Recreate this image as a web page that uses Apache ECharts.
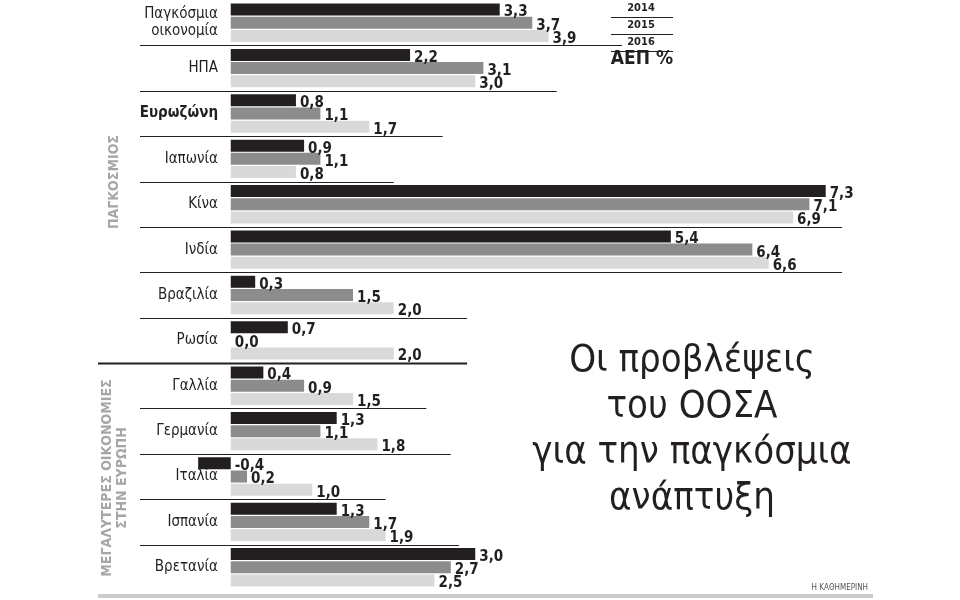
<!DOCTYPE html>
<html>
<head>
<meta charset="utf-8">
<script src="https://cdn.jsdelivr.net/npm/echarts@6/dist/echarts.min.js"></script>
<style>
  html, body { margin: 0; padding: 0; background: #fff; }
  #chart { width: 960px; height: 600px; }
</style>
</head>
<body>
<div id="chart"></div>
<script>
var FONT = "'Liberation Sans Narrow', 'DejaVu Sans Condensed', sans-serif";

// χώρες / περιοχές
var countries = ['Παγκόσμια\nοικονομία', 'ΗΠΑ', 'Ευρωζώνη', 'Ιαπωνία', 'Κίνα', 'Ινδία', 'Βραζιλία',
    'Ρωσία', 'Γαλλία', 'Γερμανία', 'Ιταλία', 'Ισπανία', 'Βρετανία'];
var years = ['2014', '2015', '2016'];
// ΑΕΠ %
var gdp2014 = [3.3, 2.2, 0.8, 0.9, 7.3, 5.4, 0.3, 0.7, 0.4, 1.3, -0.4, 1.3, 3.0];
var gdp2015 = [3.7, 3.1, 1.1, 1.1, 7.1, 6.4, 1.5, 0.0, 0.9, 1.1, 0.2, 1.7, 2.7];
var gdp2016 = [3.9, 3.0, 1.7, 0.8, 6.9, 6.6, 2.0, 2.0, 1.5, 1.8, 1.0, 1.9, 2.5];
var colors = ['#231f20', '#8c8c8c', '#d9d9d9'];

var chart = echarts.init(document.getElementById('chart'));

function makeSeries(name, data, i) {
  return {
    name: name,
    type: 'bar',
    data: data,
    barWidth: 12,
    barGap: '10%',
    itemStyle: { color: colors[i] },
    label: {
      show: true,
      position: 'right',
      distance: 4,
      offset: [0, 3],
      fontFamily: FONT,
      fontWeight: 'bold',
      fontSize: 15,
      color: '#231f20',
      formatter: function (p) { return p.value.toFixed(1).replace('.', ','); }
    }
  };
}

chart.setOption({
  animation: false,
  textStyle: { fontFamily: FONT },
  grid: { left: 190, width: 652, top: -3, height: 593 },
  xAxis: { type: 'value', min: -0.5, max: 7.5, show: false },
  yAxis: {
    type: 'category',
    data: countries,
    inverse: true,
    axisLine: { show: false },
    axisTick: { show: false },
    axisLabel: {
      margin: -28,
      fontFamily: FONT,
      fontSize: 15,
      color: '#231f20',
      lineHeight: 17,
      formatter: function (v) { return v === 'Ευρωζώνη' ? '{b|' + v + '}' : v; },
      rich: { b: { fontWeight: 'bold', fontSize: 15, fontFamily: FONT, color: '#231f20' } }
    }
  },
  series: [makeSeries(years[0], gdp2014, 0), makeSeries(years[1], gdp2015, 1), makeSeries(years[2], gdp2016, 2)]
});

// διαχωριστικές γραμμές ανά χώρα, υπολογισμένες από τους άξονες
var g = [];
var pitch = chart.convertToPixel({ yAxisIndex: 0 }, 1) - chart.convertToPixel({ yAxisIndex: 0 }, 0);
for (var i = 0; i < countries.length - 1; i++) {
  var y = Math.round(chart.convertToPixel({ yAxisIndex: 0 }, i) + pitch / 2) + 0.5;
  var mx = Math.max(gdp2014[i], gdp2015[i], gdp2016[i]) + 0.9;
  var x2 = chart.convertToPixel({ xAxisIndex: 0 }, Math.min(mx, 7.5));
  var sep = i === 7;
  g.push({ type: 'line', shape: { x1: sep ? 98 : 140, y1: y, x2: x2, y2: y },
    style: { stroke: '#231f20', lineWidth: sep ? 2 : 1 } });
}
// λεζάντα
var legY = [3, 20, 37];
years.forEach(function (yr, k) {
  g.push({ type: 'text', x: 641, y: legY[k], style: { text: yr, font: 'bold 11px ' + FONT, fill: '#231f20', align: 'center' } });
  g.push({ type: 'line', shape: { x1: 611, y1: legY[k] + 14.5, x2: 673, y2: legY[k] + 14.5 }, style: { stroke: '#231f20', lineWidth: 1 } });
});
g.push({ type: 'text', x: 642, y: 50, style: { text: 'ΑΕΠ %', font: 'bold 19px ' + FONT, fill: '#231f20', align: 'center' } });
// τίτλος
g.push({ type: 'text', x: 692, y: 338, style: {
  text: 'Οι προβλέψεις\nτου ΟΟΣΑ\nγια την παγκόσμια\nανάπτυξη',
  font: '38px ' + FONT, fill: '#231f20', align: 'center', lineHeight: 46 } });
// κάθετοι τίτλοι ομάδων
g.push({ type: 'text', x: 114, y: 182, rotation: Math.PI / 2,
  style: { text: 'ΠΑΓΚΟΣΜΙΟΣ', font: 'bold 14px ' + FONT, fill: '#a6a6a6', align: 'center', verticalAlign: 'middle' } });
g.push({ type: 'text', x: 115, y: 478, rotation: Math.PI / 2,
  style: { text: 'ΜΕΓΑΛΥΤΕΡΕΣ ΟΙΚΟΝΟΜΙΕΣ\nΣΤΗΝ ΕΥΡΩΠΗ', font: 'bold 14px ' + FONT, fill: '#a6a6a6',
    align: 'center', verticalAlign: 'middle', lineHeight: 15 } });
// υπογραφή
g.push({ type: 'rect', shape: { x: 98, y: 594, width: 775, height: 4 }, style: { fill: '#cccccc' } });
g.push({ type: 'text', x: 868, y: 584, style: { text: 'Η ΚΑΘΗΜΕΡΙΝΗ', font: '8px ' + FONT, fill: '#555', align: 'right' } });
chart.setOption({ graphic: g });
</script>
</body>
</html>
